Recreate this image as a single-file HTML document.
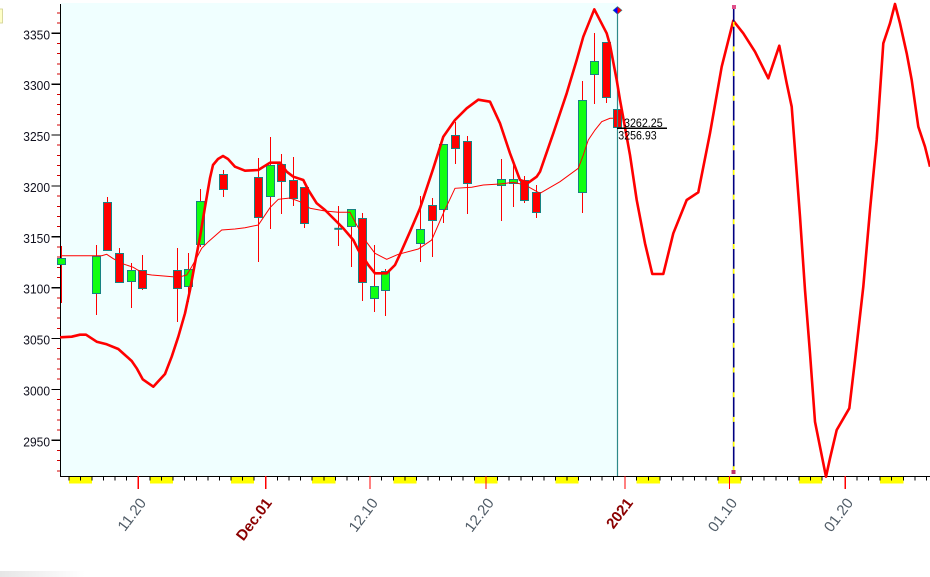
<!DOCTYPE html>
<html><head><meta charset="utf-8"><style>
html,body{margin:0;padding:0;background:#fff;}
svg{display:block;}
text{font-family:"Liberation Sans",Arial,sans-serif;}
</style></head><body>
<svg width="930" height="577" viewBox="0 0 930 577" xmlns="http://www.w3.org/2000/svg">
<rect x="0" y="0" width="930" height="577" fill="#ffffff"/>
<!-- plot background -->
<rect x="61" y="3" width="556.5" height="473" fill="#f0ffff"/>
<!-- small yellow box top-left -->
<rect x="-1" y="9" width="3.5" height="14" fill="#ffffc8" stroke="#d0d090" stroke-width="0.8"/>
<!-- bottom-left faint gray -->
<defs><linearGradient id="gg" x1="0" x2="1" y1="0" y2="0"><stop offset="0" stop-color="#e6e6e6"/><stop offset="1" stop-color="#ffffff"/></linearGradient></defs>
<rect x="0" y="571" width="85" height="6" fill="url(#gg)"/>

<!-- weekend yellow bars -->
<g fill="#ffff00" shape-rendering="crispEdges">
<rect x="68.8" y="477" width="23.2" height="6.3"/>
<rect x="149.9" y="477" width="23.2" height="6.3"/>
<rect x="231.0" y="477" width="23.2" height="6.3"/>
<rect x="312.2" y="477" width="23.2" height="6.3"/>
<rect x="393.3" y="477" width="23.2" height="6.3"/>
<rect x="474.4" y="477" width="23.2" height="6.3"/>
<rect x="555.5" y="477" width="23.2" height="6.3"/>
<rect x="636.7" y="477" width="23.2" height="6.3"/>
<rect x="717.8" y="477" width="23.2" height="6.3"/>
<rect x="798.9" y="477" width="23.2" height="6.3"/>
<rect x="880.1" y="477" width="23.2" height="6.3"/>
</g>

<!-- axes -->
<g shape-rendering="crispEdges">
<line x1="60.5" y1="4" x2="60.5" y2="477" stroke="#000" stroke-width="1.2"/>
<line x1="60" y1="476.5" x2="930" y2="476.5" stroke="#000" stroke-width="1.2"/>
</g>

<!-- y minor ticks -->
<g stroke="#d00000" stroke-width="1" shape-rendering="crispEdges">
<line x1="57" x2="60" y1="12.9" y2="12.9"/><line x1="57" x2="60" y1="23.1" y2="23.1"/>
<line x1="57" x2="60" y1="43.5" y2="43.5"/><line x1="57" x2="60" y1="53.7" y2="53.7"/><line x1="57" x2="60" y1="63.8" y2="63.8"/><line x1="57" x2="60" y1="74.0" y2="74.0"/>
<line x1="57" x2="60" y1="94.4" y2="94.4"/><line x1="57" x2="60" y1="104.6" y2="104.6"/><line x1="57" x2="60" y1="114.7" y2="114.7"/><line x1="57" x2="60" y1="124.9" y2="124.9"/>
<line x1="57" x2="60" y1="145.2" y2="145.2"/><line x1="57" x2="60" y1="155.4" y2="155.4"/><line x1="57" x2="60" y1="165.6" y2="165.6"/><line x1="57" x2="60" y1="175.7" y2="175.7"/>
<line x1="57" x2="60" y1="196.1" y2="196.1"/><line x1="57" x2="60" y1="206.3" y2="206.3"/><line x1="57" x2="60" y1="216.5" y2="216.5"/><line x1="57" x2="60" y1="226.6" y2="226.6"/>
<line x1="57" x2="60" y1="247.0" y2="247.0"/><line x1="57" x2="60" y1="257.2" y2="257.2"/><line x1="57" x2="60" y1="267.3" y2="267.3"/><line x1="57" x2="60" y1="277.5" y2="277.5"/>
<line x1="57" x2="60" y1="297.9" y2="297.9"/><line x1="57" x2="60" y1="308.0" y2="308.0"/><line x1="57" x2="60" y1="318.2" y2="318.2"/><line x1="57" x2="60" y1="328.4" y2="328.4"/>
<line x1="57" x2="60" y1="348.7" y2="348.7"/><line x1="57" x2="60" y1="358.9" y2="358.9"/><line x1="57" x2="60" y1="369.1" y2="369.1"/><line x1="57" x2="60" y1="379.2" y2="379.2"/>
<line x1="57" x2="60" y1="399.6" y2="399.6"/><line x1="57" x2="60" y1="409.8" y2="409.8"/><line x1="57" x2="60" y1="419.9" y2="419.9"/><line x1="57" x2="60" y1="430.1" y2="430.1"/>
<line x1="57" x2="60" y1="450.5" y2="450.5"/><line x1="57" x2="60" y1="460.6" y2="460.6"/><line x1="57" x2="60" y1="470.8" y2="470.8"/>
</g>
<!-- y major ticks -->
<g stroke="#000" stroke-width="1.2" shape-rendering="crispEdges">
<line x1="51.5" x2="60" y1="33.3" y2="33.3"/>
<line x1="51.5" x2="60" y1="84.2" y2="84.2"/>
<line x1="51.5" x2="60" y1="135.1" y2="135.1"/>
<line x1="51.5" x2="60" y1="185.9" y2="185.9"/>
<line x1="51.5" x2="60" y1="236.8" y2="236.8"/>
<line x1="51.5" x2="60" y1="287.7" y2="287.7"/>
<line x1="51.5" x2="60" y1="338.6" y2="338.6"/>
<line x1="51.5" x2="60" y1="389.4" y2="389.4"/>
<line x1="51.5" x2="60" y1="440.3" y2="440.3"/>
</g>
<!-- y labels -->
<g font-size="13" fill="#10101e" text-anchor="end">
<text x="50" y="39.3" textLength="26.7" lengthAdjust="spacingAndGlyphs">3350</text>
<text x="50" y="90.2" textLength="26.7" lengthAdjust="spacingAndGlyphs">3300</text>
<text x="50" y="141.1" textLength="26.7" lengthAdjust="spacingAndGlyphs">3250</text>
<text x="50" y="191.9" textLength="26.7" lengthAdjust="spacingAndGlyphs">3200</text>
<text x="50" y="242.8" textLength="26.7" lengthAdjust="spacingAndGlyphs">3150</text>
<text x="50" y="293.7" textLength="26.7" lengthAdjust="spacingAndGlyphs">3100</text>
<text x="50" y="344.6" textLength="26.7" lengthAdjust="spacingAndGlyphs">3050</text>
<text x="50" y="395.4" textLength="26.7" lengthAdjust="spacingAndGlyphs">3000</text>
<text x="50" y="446.3" textLength="26.7" lengthAdjust="spacingAndGlyphs">2950</text>
</g>

<!-- x day ticks -->
<g stroke="#000" stroke-width="1" shape-rendering="crispEdges">
<line x1="68.8" x2="68.8" y1="476" y2="480.5"/><line x1="80.3" x2="80.3" y1="476" y2="480.5"/><line x1="91.9" x2="91.9" y1="476" y2="480.5"/><line x1="103.5" x2="103.5" y1="476" y2="480.5"/><line x1="115.1" x2="115.1" y1="476" y2="480.5"/><line x1="126.7" x2="126.7" y1="476" y2="480.5"/>
<line x1="149.9" x2="149.9" y1="476" y2="480.5"/><line x1="161.5" x2="161.5" y1="476" y2="480.5"/><line x1="173.1" x2="173.1" y1="476" y2="480.5"/><line x1="184.7" x2="184.7" y1="476" y2="480.5"/><line x1="196.3" x2="196.3" y1="476" y2="480.5"/><line x1="207.8" x2="207.8" y1="476" y2="480.5"/><line x1="219.4" x2="219.4" y1="476" y2="480.5"/><line x1="231.0" x2="231.0" y1="476" y2="480.5"/><line x1="242.6" x2="242.6" y1="476" y2="480.5"/><line x1="254.2" x2="254.2" y1="476" y2="480.5"/>
<line x1="277.4" x2="277.4" y1="476" y2="480.5"/><line x1="289.0" x2="289.0" y1="476" y2="480.5"/><line x1="300.6" x2="300.6" y1="476" y2="480.5"/><line x1="312.2" x2="312.2" y1="476" y2="480.5"/><line x1="323.8" x2="323.8" y1="476" y2="480.5"/><line x1="335.3" x2="335.3" y1="476" y2="480.5"/><line x1="346.9" x2="346.9" y1="476" y2="480.5"/><line x1="358.5" x2="358.5" y1="476" y2="480.5"/>
<line x1="381.7" x2="381.7" y1="476" y2="480.5"/><line x1="393.3" x2="393.3" y1="476" y2="480.5"/><line x1="404.9" x2="404.9" y1="476" y2="480.5"/><line x1="416.5" x2="416.5" y1="476" y2="480.5"/><line x1="428.1" x2="428.1" y1="476" y2="480.5"/><line x1="439.7" x2="439.7" y1="476" y2="480.5"/><line x1="451.3" x2="451.3" y1="476" y2="480.5"/><line x1="462.8" x2="462.8" y1="476" y2="480.5"/><line x1="474.4" x2="474.4" y1="476" y2="480.5"/>
<line x1="497.6" x2="497.6" y1="476" y2="480.5"/><line x1="509.2" x2="509.2" y1="476" y2="480.5"/><line x1="520.8" x2="520.8" y1="476" y2="480.5"/><line x1="532.4" x2="532.4" y1="476" y2="480.5"/><line x1="544.0" x2="544.0" y1="476" y2="480.5"/><line x1="555.5" x2="555.5" y1="476" y2="480.5"/><line x1="567.1" x2="567.1" y1="476" y2="480.5"/><line x1="578.7" x2="578.7" y1="476" y2="480.5"/><line x1="590.3" x2="590.3" y1="476" y2="480.5"/><line x1="601.9" x2="601.9" y1="476" y2="480.5"/><line x1="613.5" x2="613.5" y1="476" y2="480.5"/>
<line x1="636.7" x2="636.7" y1="476" y2="480.5"/><line x1="648.3" x2="648.3" y1="476" y2="480.5"/><line x1="659.9" x2="659.9" y1="476" y2="480.5"/><line x1="671.4" x2="671.4" y1="476" y2="480.5"/><line x1="683.0" x2="683.0" y1="476" y2="480.5"/><line x1="694.6" x2="694.6" y1="476" y2="480.5"/><line x1="706.2" x2="706.2" y1="476" y2="480.5"/><line x1="717.8" x2="717.8" y1="476" y2="480.5"/>
<line x1="741.0" x2="741.0" y1="476" y2="480.5"/><line x1="752.6" x2="752.6" y1="476" y2="480.5"/><line x1="764.2" x2="764.2" y1="476" y2="480.5"/><line x1="775.8" x2="775.8" y1="476" y2="480.5"/><line x1="787.4" x2="787.4" y1="476" y2="480.5"/><line x1="798.9" x2="798.9" y1="476" y2="480.5"/><line x1="810.5" x2="810.5" y1="476" y2="480.5"/><line x1="822.1" x2="822.1" y1="476" y2="480.5"/><line x1="833.7" x2="833.7" y1="476" y2="480.5"/>
<line x1="856.9" x2="856.9" y1="476" y2="480.5"/><line x1="868.5" x2="868.5" y1="476" y2="480.5"/><line x1="880.1" x2="880.1" y1="476" y2="480.5"/><line x1="891.7" x2="891.7" y1="476" y2="480.5"/><line x1="903.3" x2="903.3" y1="476" y2="480.5"/><line x1="914.9" x2="914.9" y1="476" y2="480.5"/><line x1="926.4" x2="926.4" y1="476" y2="480.5"/>
</g>
<!-- x label ticks (red) -->
<g stroke="#ff0000" stroke-width="1.2" shape-rendering="crispEdges">
<line x1="138.3" x2="138.3" y1="476" y2="489"/>
<line x1="265.8" x2="265.8" y1="476" y2="489"/>
<line x1="370.1" x2="370.1" y1="476" y2="489"/>
<line x1="486.0" x2="486.0" y1="476" y2="489"/>
<line x1="625.1" x2="625.1" y1="476" y2="489"/>
<line x1="729.4" x2="729.4" y1="476" y2="489"/>
<line x1="845.3" x2="845.3" y1="476" y2="489"/>
</g>
<!-- x labels -->
<g font-size="15" text-anchor="end">
<text x="146.8" y="503" fill="#4f5b66" transform="rotate(-53 146.8 503)">11.20</text>
<text x="272.5" y="503" fill="#8b0000" font-weight="bold" transform="rotate(-53 272.5 503)">Dec.01</text>
<text x="378.6" y="503" fill="#4f5b66" transform="rotate(-53 378.6 503)">12.10</text>
<text x="494.5" y="503" fill="#4f5b66" transform="rotate(-53 494.5 503)">12.20</text>
<text x="633.6" y="503" fill="#8b0000" font-weight="bold" transform="rotate(-53 633.6 503)">2021</text>
<text x="737.9" y="503" fill="#4f5b66" transform="rotate(-53 737.9 503)">01.10</text>
<text x="853.8" y="503" fill="#4f5b66" transform="rotate(-53 853.8 503)">01.20</text>
</g>

<!-- candles: wicks -->
<g stroke="#ff0000" stroke-width="1" shape-rendering="crispEdges">
<line x1="61.5" x2="61.5" y1="246" y2="303"/>
<line x1="96.5" x2="96.5" y1="245" y2="315"/>
<line x1="107.5" x2="107.5" y1="197" y2="251"/>
<line x1="119.5" x2="119.5" y1="248" y2="282"/>
<line x1="131.5" x2="131.5" y1="263" y2="308"/>
<line x1="142.5" x2="142.5" y1="255" y2="290"/>
<line x1="177.5" x2="177.5" y1="248" y2="322"/>
<line x1="188.5" x2="188.5" y1="253" y2="302"/>
<line x1="200.5" x2="200.5" y1="189" y2="247"/>
<line x1="223.5" x2="223.5" y1="170" y2="197"/>
<line x1="258.5" x2="258.5" y1="158" y2="262"/>
<line x1="270.5" x2="270.5" y1="137" y2="229"/>
<line x1="281.5" x2="281.5" y1="154" y2="214"/>
<line x1="293.5" x2="293.5" y1="157" y2="206"/>
<line x1="304.5" x2="304.5" y1="187" y2="228"/>
<line x1="338.5" x2="338.5" y1="206" y2="246"/>
<line x1="351.5" x2="351.5" y1="209" y2="267"/>
<line x1="362.5" x2="362.5" y1="213" y2="301"/>
<line x1="374.5" x2="374.5" y1="245" y2="312"/>
<line x1="385.5" x2="385.5" y1="269" y2="316"/>
<line x1="420.5" x2="420.5" y1="196" y2="262"/>
<line x1="432.5" x2="432.5" y1="198" y2="257"/>
<line x1="443.5" x2="443.5" y1="144" y2="223"/>
<line x1="455.5" x2="455.5" y1="122" y2="164"/>
<line x1="467.5" x2="467.5" y1="136" y2="214"/>
<line x1="501.5" x2="501.5" y1="159" y2="221"/>
<line x1="513.5" x2="513.5" y1="164" y2="207"/>
<line x1="524.5" x2="524.5" y1="176" y2="203"/>
<line x1="536.5" x2="536.5" y1="185" y2="218"/>
<line x1="582.5" x2="582.5" y1="81" y2="213"/>
<line x1="594.5" x2="594.5" y1="33" y2="104"/>
<line x1="606.5" x2="606.5" y1="42" y2="103"/>
<line x1="617.5" x2="617.5" y1="109" y2="145"/>
</g>
<!-- candles: bodies -->
<g stroke="#178282" stroke-width="1" shape-rendering="crispEdges">
<rect x="57.5" y="258.5" width="8" height="6" fill="#11ff11"/>
<rect x="92.5" y="256.5" width="8" height="37" fill="#11ff11"/>
<rect x="103.5" y="202.5" width="8" height="48" fill="#ff0000"/>
<rect x="115.5" y="253.5" width="8" height="29" fill="#ff0000"/>
<rect x="127.5" y="270.5" width="8" height="11" fill="#11ff11"/>
<rect x="138.5" y="270.5" width="8" height="18" fill="#ff0000"/>
<rect x="173.5" y="270.5" width="8" height="18" fill="#ff0000"/>
<rect x="184.5" y="269.5" width="8" height="17" fill="#11ff11"/>
<rect x="196.5" y="201.5" width="8" height="43" fill="#11ff11"/>
<rect x="219.5" y="174.5" width="8" height="15" fill="#ff0000"/>
<rect x="254.5" y="177.5" width="8" height="40" fill="#ff0000"/>
<rect x="266.5" y="165.5" width="8" height="31" fill="#11ff11"/>
<rect x="277.5" y="164.5" width="8" height="17" fill="#ff0000"/>
<rect x="289.5" y="180.5" width="8" height="18" fill="#ff0000"/>
<rect x="300.5" y="187.5" width="8" height="36" fill="#ff0000"/>
<rect x="347.5" y="209.5" width="8" height="17" fill="#11ff11"/>
<rect x="358.5" y="218.5" width="8" height="64" fill="#ff0000"/>
<rect x="370.5" y="286.5" width="8" height="12" fill="#11ff11"/>
<rect x="381.5" y="271.5" width="8" height="19" fill="#11ff11"/>
<rect x="416.5" y="229.5" width="8" height="14" fill="#11ff11"/>
<rect x="428.5" y="205.5" width="8" height="15" fill="#ff0000"/>
<rect x="439.5" y="144.5" width="8" height="65" fill="#11ff11"/>
<rect x="451.5" y="135.5" width="8" height="13" fill="#ff0000"/>
<rect x="463.5" y="141.5" width="8" height="42" fill="#ff0000"/>
<rect x="497.5" y="179.5" width="8" height="6" fill="#11ff11"/>
<rect x="509.5" y="179.5" width="8" height="4" fill="#11ff11"/>
<rect x="520.5" y="180.5" width="8" height="20" fill="#ff0000"/>
<rect x="532.5" y="192.5" width="8" height="20" fill="#ff0000"/>
<rect x="578.5" y="100.5" width="8" height="92" fill="#11ff11"/>
<rect x="590.5" y="61.5" width="8" height="13" fill="#11ff11"/>
<rect x="602.5" y="42.5" width="8" height="55" fill="#ff0000"/>
<rect x="613.5" y="109.5" width="8" height="18" fill="#ff0000"/>
</g>
<rect x="334.3" y="227.8" width="8" height="2" fill="#178282"/>

<!-- vertical teal line at last bar -->
<line x1="617.5" y1="10" x2="617.5" y2="476" stroke="#2e8a8a" stroke-width="1.2"/>

<!-- thin MA line -->
<polyline fill="none" stroke="#ff0000" stroke-width="1" points="61,255.7 101.7,255.7 106.7,254.3 113.3,258.7 124.3,264.3 133.3,267.3 137.7,270 146.7,274.3 151.7,275 166.7,276.3 178.3,277.3 186.7,275 191.7,266.7 196.7,257.7 201.7,248.3 208.3,241.7 221.7,230 235,229 245,227.7 258.3,225 270,207.7 278.3,199.3 290,198 300,201.7 310,208.3 325,211 338.3,212.3 350,212.3 356.7,225 366.7,242.3 375,253.3 386.7,259.3 398.3,254.3 418.3,249 431.7,240 443.3,213.3 455,188.3 471.7,187.3 483.3,185 500,184 513.3,182.3 525,185 540,193.3 560,181.7 578.3,168.3 583.3,155 588.3,140 595,130 601.7,121.7 610,118.3 613.3,118.3"/>

<!-- thick forecast line -->
<polyline fill="none" stroke="#ff0000" stroke-width="2.6" stroke-linejoin="round" points="60,337.3 71.7,336.7 80,334.7 86,334.7 96.7,341.7 106.7,344.3 118.3,349 125,355 131.7,361 136.7,368.3 142.7,379.3 153.3,386.7 165,374 171.7,356.7 178.3,336.7 185,313.3 190,290 195,263 200,237 205,207 210,178 213,165 218,159 223,156 228,159 235,166.7 245,170.7 258.3,170 270,162.7 280,162.7 286.7,171.7 293.3,176.7 303.3,180 308.3,190 316.7,203.3 325,210 335,220 343.3,228.3 353.3,240 358.3,250 368.3,265 375,273.3 386.7,273.3 395,265 400,254.3 410,231.7 420,208.3 433.3,168.3 443.3,136.7 455,120 466.7,108.3 478.3,99.7 490,101.7 500,123.3 510,153.3 520,180 528.3,182.7 536.7,176.7 540,171.7 553.3,133.3 566.7,93.3 576.7,60 583.3,36.7 594.3,9.3 606.7,33.3 610,45 616.7,80 620,100 623.3,118 630,155 636.7,200 645,243.3 652.3,274 663.3,274 673.3,233.3 686.7,200 698.3,192.3 710,133.3 721.7,66.7 733.3,20.7 743.3,33.3 755,51.7 768.3,78.3 779.3,45.7 786.7,83.3 791.7,106.7 795,150 800,216.7 805,290 810,353.3 815,421.7 820,446.7 826,476.7 830,458.3 836.7,430 849.3,408.3 855,360 863.3,286.7 870,210 876.7,140 883.3,43.3 890,23.3 895,4 900,23.3 906.7,53.3 911.7,80 918.3,126.7 925,146.7 930,166.7"/>

<!-- dashed navy/yellow vertical -->
<line x1="733.7" y1="7" x2="733.7" y2="472" stroke="#000080" stroke-width="1.6"/>
<line x1="733.7" y1="21.7" x2="733.7" y2="472" stroke="#ffff00" stroke-width="1.6" stroke-dasharray="5 19.7"/>
<rect x="732" y="5" width="4" height="4" fill="#e0508a"/>
<rect x="731.5" y="470" width="4" height="4" fill="#c0306a"/>

<!-- diamond marker -->
<polygon points="613,10.3 617.5,6.5 617.5,14.2" fill="#0000ff"/>
<polygon points="622,10.3 617.5,6.5 617.5,14.2" fill="#ff0000"/>
<polygon points="613,10.3 617.5,6.5 622,10.3 617.5,14.2" fill="none" stroke="#2e8a8a" stroke-width="0.6"/>

<!-- value labels -->
<text x="624" y="127" font-size="12" fill="#000" textLength="38.7" lengthAdjust="spacingAndGlyphs">3262.25</text>
<line x1="617" y1="128.2" x2="667" y2="128.2" stroke="#000" stroke-width="1.2" shape-rendering="crispEdges"/>
<text x="618.3" y="139.3" font-size="12" fill="#000" textLength="38.4" lengthAdjust="spacingAndGlyphs">3256.93</text>
</svg>
</body></html>
